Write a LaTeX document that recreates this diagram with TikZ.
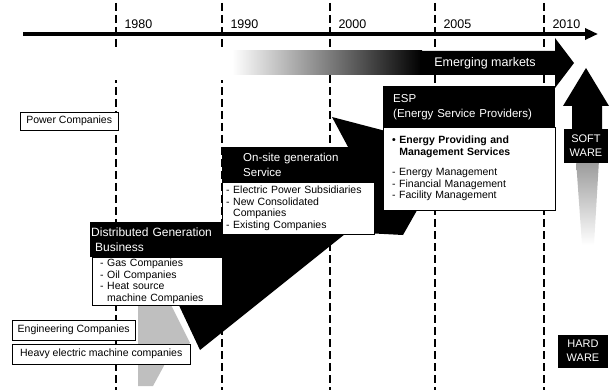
\documentclass[tikz,border=0pt]{standalone}
\usepackage{fontspec}
\setmainfont{Liberation Sans}
\usetikzlibrary{arrows.meta}

\tikzset{
  listbox/.style={draw=black,thin,fill=white,anchor=north west,align=left,inner xsep=4pt,inner ysep=2pt,font=\fontsize{10.5}{11.5}\selectfont},
  headbox/.style={fill=black,text=white,anchor=north west,align=left,inner ysep=2pt,font=\fontsize{11.5}{15}\selectfont},
  tagbox/.style={fill=black,text=white,align=center,inner sep=2pt,font=\fontsize{11}{14}\selectfont},
  yearline/.style={line width=2.2pt,dash pattern=on 8pt off 4pt},
  yearlabel/.style={anchor=west,font=\fontsize{12.5}{14}\selectfont},
}

\begin{document}
\begin{tikzpicture}[x=1pt,y=-1pt]
\useasboundingbox (0,0) rectangle (610,390);

% year lines
\foreach \xx/\yr in {116/1980,222/1990,330/2000,435/2005,544/2010}{
  \draw[yearline] (\xx,3) -- (\xx,390);
  \node (y\yr) at (\xx+5,24)[yearlabel]{\yr};
}

% emerging markets
\fill[white] (100,47) rectangle (234,80);
\shade[left color=white,right color=black] (232,51) rectangle (422,75);
\fill (420,51) -- (555,51) -- (555,38) -- (574,63) -- (555,88) -- (555,75) -- (420,75) -- cycle;
\node (emerg) at (485,63)[text=white,font=\fontsize{12.5}{14}\selectfont]{Emerging markets};

% wedges
\fill[gray!50] (138,386) -- (153,386) -- (166,362) -- (190,343) -- (170,303) -- (138,303) -- cycle;
\fill (200,350) -- (160,265) -- (230,228) -- (345,228) -- (345,234) -- cycle;
\fill (332,117) -- (420,140) -- (420,205) -- (403,235) -- (365,233) -- (355,160) -- cycle;

% soft / hard ware
\fill (563,106) -- (586,68) -- (609,106) -- (602,106) -- (602,150) -- (572,150) -- (572,106) -- cycle;
\shade[top color=gray!80,bottom color=white] (576,160) -- (599,160) -- (594,245) -- (582,245) -- cycle;
\node (soft) at (586,146)[tagbox,minimum width=44pt,minimum height=34pt]{SOFT\\WARE};
\node (hard) at (583,351)[tagbox,minimum width=50pt,minimum height=33pt]{HARD\\WARE};

% boxes
\node (power) at (20,112)[listbox,minimum width=98pt,minimum height=18pt]{Power Companies};

\node (dghead) at (90,222)[headbox,inner xsep=1pt,text width=131pt,minimum height=35pt,font=\fontsize{12}{15}\selectfont]{Distributed Generation\\\ Business};
\node (dglist) at (92,257)[listbox,inner xsep=8pt,text width=114pt,minimum height=48pt]{- Gas Companies\\- Oil Companies\\- Heat source\\\phantom{- }machine Companies};

\node (onhead) at (222,147)[headbox,inner xsep=21pt,text width=110pt,minimum height=36pt]{On-site generation\\Service};
\node (onlist) at (222,182)[listbox,text width=144pt,minimum height=52pt]{- Electric Power Subsidiaries\\- New Consolidated\\\phantom{- }Companies\\- Existing Companies};

\node (esphead) at (383,86)[headbox,inner xsep=10pt,text width=152pt,minimum height=41pt]{ESP\\(Energy Service Providers)};
\node (esplist) at (383,127)[listbox,inner xsep=9pt,text width=154pt,minimum height=83pt]{\textbf{• Energy Providing and}\\\textbf{\phantom{• }Management Services}\\[9pt]- Energy Management\\- Financial Management\\- Facility Management};

\node (eng) at (12,320)[listbox,minimum width=123pt,minimum height=20pt]{Engineering Companies};
\node (heavy) at (12,344)[listbox,minimum width=178pt,minimum height=20pt]{Heavy electric machine companies};

% time axis
\coordinate (tstart) at (23,34);
\coordinate (tend) at (598,34);
\draw[line width=3.2pt,-{Triangle[length=13pt,width=11pt]}] (tstart) -- (tend);

\end{tikzpicture}
\end{document}
